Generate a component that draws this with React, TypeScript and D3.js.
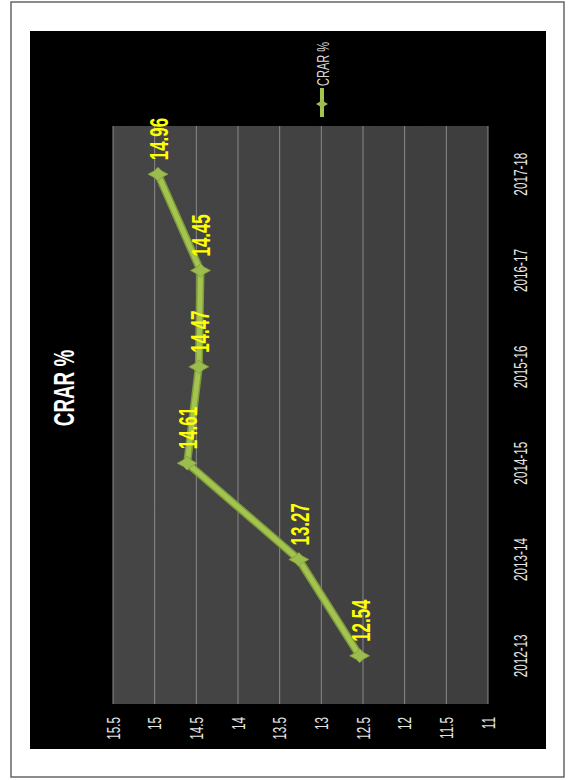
import React from "react";
import * as d3 from "d3";

const categories = ["2012-13", "2013-14", "2014-15", "2015-16", "2016-17", "2017-18"];
const crarValues = [12.54, 13.27, 14.61, 14.47, 14.45, 14.96];
const valueTicks = [15.5, 15, 14.5, 14, 13.5, 13, 12.5, 12, 11.5, 11];
const seriesName = "CRAR %";
const chartTitle = "CRAR %";

const W = 574;
const H = 780;
const SQ = 0.65;
const FONT = "'Liberation Sans', Arial, sans-serif";

function star(cx: number, cy: number, a: number, b: number, c: number) {
  // 4-point star: a = half-width along x, b = half-height along y, c = inner radius
  return `M${cx - a},${cy} L${cx - c},${cy - c} L${cx},${cy - b} L${cx + c},${cy - c} L${cx + a},${cy} L${cx + c},${cy + c} L${cx},${cy + b} L${cx - c},${cy + c} Z`;
}

export default function App() {
  const x = d3.scaleLinear().domain([11, 15.5]).range([488, 113]);
  const y = d3.scaleBand<string>().domain(categories).range([704, 126]);
  const yc = (c: string) => (y(c) as number) + y.bandwidth() / 2;

  const pts = categories.map((c, i) => ({ c, v: crarValues[i], px: x(crarValues[i]), py: yc(c) }));
  const line = d3
    .line<{ px: number; py: number }>()
    .x((d) => d.px)
    .y((d) => d.py);

  const rot = (tx: number, ty: number) => `translate(${tx},${ty}) rotate(-90) scale(${SQ},1)`;

  return (
    <svg width={W} height={H} style={{ position: "absolute", left: 0, top: 0, display: "block" }}>
      <defs>
        <linearGradient id="plotGrad" x1="0" y1="0" x2="1" y2="0">
          <stop offset="0" stopColor="#464646" />
          <stop offset="1" stopColor="#3e3e3e" />
        </linearGradient>
      </defs>
      <rect x={0} y={0} width={W} height={H} fill="#ffffff" />
      <rect x={11} y={2} width={553} height={775} fill="#ffffff" stroke="#666666" strokeWidth={1.5} />
      <rect x={30} y={31} width={516} height={718} fill="#000000" />

      {/* Title */}
      <text
        transform={rot(64, 388)}
        textAnchor="middle"
        dominantBaseline="central"
        fill="#ffffff"
        fontFamily={FONT}
        fontWeight="bold"
        fontSize={29}
      >
        {chartTitle}
      </text>

      {/* Plot area */}
      <rect x={113} y={126} width={375} height={578} fill="url(#plotGrad)" />
      {valueTicks.map((t) => (
        <line key={t} x1={x(t)} x2={x(t)} y1={126} y2={704} stroke="#8a8a8a" strokeWidth={1} />
      ))}

      {/* Value tick labels */}
      {valueTicks.map((t) => (
        <text
          key={"l" + t}
          transform={rot(x(t), 717)}
          textAnchor="end"
          dominantBaseline="central"
          fill="#e6e6e6"
          fontFamily={FONT}
          fontSize={18}
        >
          {String(t)}
        </text>
      ))}

      {/* Category labels */}
      {categories.map((c) => (
        <text
          key={c}
          transform={rot(520, yc(c))}
          textAnchor="middle"
          dominantBaseline="central"
          fill="#e6e6e6"
          fontFamily={FONT}
          fontSize={18}
        >
          {c}
        </text>
      ))}

      {/* Series */}
      <path d={line(pts) || ""} fill="none" stroke="#7f9a3a" strokeWidth={8} strokeLinejoin="round" strokeLinecap="round" />
      <path d={line(pts) || ""} fill="none" stroke="#a4c450" strokeWidth={5} strokeLinejoin="round" strokeLinecap="round" />
      {pts.map((p) => (
        <path key={"m" + p.c} d={star(p.px, p.py, 10, 7, 3.5)} fill="#9cbc4e" stroke="#7f9a3a" strokeWidth={0.8} />
      ))}

      {/* Data labels */}
      {pts.map((p) => (
        <text
          key={"d" + p.c}
          transform={rot(p.px + 1, p.py - 14)}
          textAnchor="start"
          dominantBaseline="central"
          fill="#ffff00"
          fontFamily={FONT}
          fontWeight="bold"
          fontSize={26}
        >
          {p.v.toFixed(2)}
        </text>
      ))}

      {/* Legend */}
      <line x1={322} x2={322} y1={88} y2={117} stroke="#a4c450" strokeWidth={4} />
      <path d={star(322, 104, 6, 5, 2.2)} fill="#9cbc4e" />
      <text
        transform={rot(323, 86)}
        textAnchor="start"
        dominantBaseline="central"
        fill="#d9d9d9"
        fontFamily={FONT}
        fontSize={17}
      >
        {seriesName}
      </text>
    </svg>
  );
}
